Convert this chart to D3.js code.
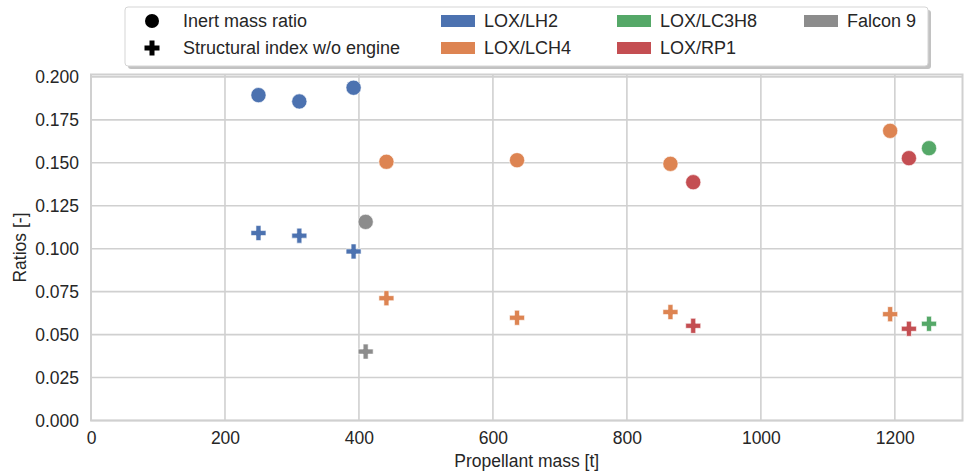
<!DOCTYPE html>
<html>
<head>
<meta charset="utf-8">
<script src="https://cdn.jsdelivr.net/npm/d3@7"></script>
<style>
  body { margin: 0; background: #fff; }
  svg { display: block; }
  text { font-family: "Liberation Sans", Arial, sans-serif; fill: #262626; }
</style>
</head>
<body>
<svg id="chart" width="965" height="471"></svg>
<script>
// Propellant combinations and their colours
const propellants = ["LOX/LH2", "LOX/LCH4", "LOX/LC3H8", "LOX/RP1", "Falcon 9"];
const colors = ["#4c72b0", "#dd8452", "#55a868", "#c44e52", "#8c8c8c"];

// Propellant mass [t] for each vehicle, grouped by propellant
const massLH2 = [250, 311, 392];
const massLCH4 = [441, 636, 865, 1193];
const massLC3H8 = [1251];
const massRP1 = [899, 1221];
const massF9 = [410];

// Inert mass ratio [-]
const inertLH2 = [0.1894, 0.1857, 0.1937];
const inertLCH4 = [0.1506, 0.1515, 0.1494, 0.1686];
const inertLC3H8 = [0.1585];
const inertRP1 = [0.1387, 0.1527];
const inertF9 = [0.1156];

// Structural index without engine [-]
const structLH2 = [0.1091, 0.1076, 0.0984];
const structLCH4 = [0.0712, 0.0598, 0.0631, 0.0619];
const structLC3H8 = [0.0563];
const structRP1 = [0.0551, 0.0534];
const structF9 = [0.0401];

const xTicks = [0, 200, 400, 600, 800, 1000, 1200];
const yTicks = [0, 0.025, 0.05, 0.075, 0.1, 0.125, 0.15, 0.175, 0.2];

const masses = [massLH2, massLCH4, massLC3H8, massRP1, massF9];
const inerts = [inertLH2, inertLCH4, inertLC3H8, inertRP1, inertF9];
const structs = [structLH2, structLCH4, structLC3H8, structRP1, structF9];

const points = [];
propellants.forEach((p, i) => {
  masses[i].forEach((m, j) => {
    points.push({ prop: p, mass: m, value: inerts[i][j], kind: "inert" });
    points.push({ prop: p, mass: m, value: structs[i][j], kind: "struct" });
  });
});

const svg = d3.select("#chart");
const plotL = 91, plotR = 962.5, plotT = 74.5, plotB = 420.5;

const x = d3.scaleLinear().domain([0, 1301]).range([plotL, plotR]);
const y = d3.scaleLinear().domain([0, 0.2014]).range([plotB, plotT]);
const color = d3.scaleOrdinal().domain(propellants).range(colors);

const gridColor = "#d0d0d0";
const fontSize = "17.5px";

// grid
const grid = svg.append("g");
grid.selectAll(".gx").data(xTicks).join("line")
  .attr("x1", d => x(d)).attr("x2", d => x(d))
  .attr("y1", plotT).attr("y2", plotB)
  .attr("stroke", gridColor).attr("stroke-width", 1.6);
grid.selectAll(".gy").data(yTicks).join("line")
  .attr("x1", plotL).attr("x2", plotR)
  .attr("y1", d => y(d)).attr("y2", d => y(d))
  .attr("stroke", gridColor).attr("stroke-width", 1.6);

// frame
svg.append("rect")
  .attr("x", plotL).attr("y", plotT)
  .attr("width", plotR - plotL).attr("height", plotB - plotT)
  .attr("fill", "none").attr("stroke", gridColor).attr("stroke-width", 2);

// axes
const xAxis = svg.append("g").attr("transform", `translate(0,${plotB})`)
  .call(d3.axisBottom(x).tickValues(xTicks).tickSize(0).tickPadding(11).tickFormat(d3.format("d")));
const yAxis = svg.append("g").attr("transform", `translate(${plotL},0)`)
  .call(d3.axisLeft(y).tickValues(yTicks).tickSize(0).tickPadding(12).tickFormat(d3.format(".3f")));
[xAxis, yAxis].forEach(a => {
  a.select(".domain").remove();
  a.selectAll("text").style("font-family", "'Liberation Sans', Arial, sans-serif")
    .style("font-size", fontSize).attr("fill", "#262626");
});

svg.append("text").attr("x", (plotL + plotR) / 2).attr("y", 467)
  .attr("text-anchor", "middle").style("font-size", fontSize).text("Propellant mass [t]");
svg.append("text")
  .attr("transform", `translate(26,${(plotT + plotB) / 2}) rotate(-90)`)
  .attr("text-anchor", "middle").style("font-size", fontSize).text("Ratios [-]");

// markers
const cross = d3.symbol().type(d3.symbolCross).size(125);
const marks = svg.append("g");
marks.selectAll(".inert").data(points.filter(d => d.kind === "inert")).join("circle")
  .attr("cx", d => x(d.mass)).attr("cy", d => y(d.value)).attr("r", 7.6)
  .attr("fill", d => color(d.prop)).attr("stroke", "#fff").attr("stroke-width", 0.6);
marks.selectAll(".struct").data(points.filter(d => d.kind === "struct")).join("path")
  .attr("d", cross)
  .attr("transform", d => `translate(${x(d.mass)},${y(d.value)})`)
  .attr("fill", d => color(d.prop)).attr("stroke", "#fff").attr("stroke-width", 0.6);

// legend
const lg = svg.append("g");
const lx = 125, ly = 7, lw = 803, lh = 59;
lg.append("rect").attr("x", lx + 3).attr("y", ly + 3).attr("width", lw).attr("height", lh)
  .attr("rx", 3).attr("fill", "#9a9a9a").attr("opacity", 0.6);
lg.append("rect").attr("x", lx).attr("y", ly).attr("width", lw).attr("height", lh)
  .attr("rx", 3).attr("fill", "#fff").attr("stroke", "#d5d5d5").attr("stroke-width", 1);

const legendFont = "18px";
const row1 = 21, row2 = 48;
lg.append("circle").attr("cx", 152).attr("cy", row1).attr("r", 7).attr("fill", "#000");
lg.append("path").attr("d", cross).attr("transform", `translate(152,${row2})`).attr("fill", "#000");
lg.append("text").attr("x", 183).attr("y", row1).attr("dy", "0.35em").style("font-size", legendFont).text("Inert mass ratio");
lg.append("text").attr("x", 183).attr("y", row2).attr("dy", "0.35em").style("font-size", legendFont).text("Structural index w/o engine");

const colX = [441, 441, 617, 617, 804];
const rowY = [row1, row2, row1, row2, row1];
propellants.forEach((p, i) => {
  lg.append("rect").attr("x", colX[i]).attr("y", rowY[i] - 6).attr("width", 34).attr("height", 12)
    .attr("fill", color(p));
  lg.append("text").attr("x", colX[i] + 43).attr("y", rowY[i]).attr("dy", "0.35em")
    .style("font-size", legendFont).text(p);
});
</script>
</body>
</html>
